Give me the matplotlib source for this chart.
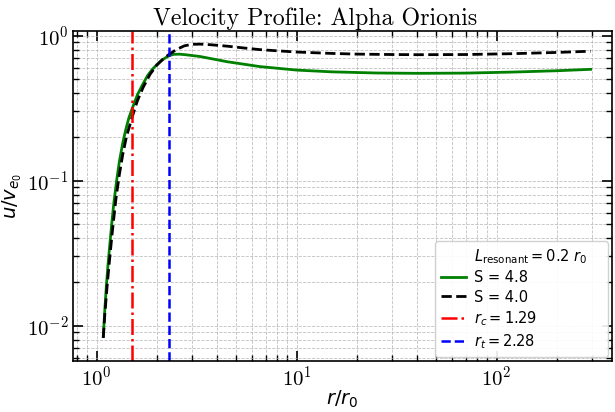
import matplotlib
matplotlib.use('Agg')
import matplotlib.pyplot as plt
from matplotlib.lines import Line2D

# ---------------------------- data ---------------------------- #
r_s48 = [1.08, 1.10, 1.12, 1.14, 1.16, 1.19, 1.22, 1.26, 1.30, 1.35, 1.40, 1.45, 1.51,
         1.60, 1.70, 1.80, 1.90, 2.00, 2.10, 2.20, 2.30, 2.42, 2.60, 2.80, 3.29, 4.5, 6.55,
         10, 15, 25, 40, 70, 120, 200, 295]
u_s48 = [0.0084, 0.013, 0.019, 0.026, 0.034, 0.050, 0.070, 0.100, 0.135, 0.180, 0.225, 0.270, 0.316,
         0.390, 0.460, 0.530, 0.585, 0.630, 0.668, 0.700, 0.725, 0.742, 0.744, 0.737, 0.717, 0.66, 0.611,
         0.578, 0.562, 0.552, 0.549, 0.551, 0.56, 0.572, 0.585]

r_s40 = [1.08, 1.10, 1.13, 1.16, 1.20, 1.25, 1.30, 1.35, 1.41, 1.51, 1.60, 1.71, 1.85,
         2.00, 2.15, 2.30, 2.50, 2.75, 3.00, 3.30, 3.70, 4.5, 5.5, 6.55, 8, 10, 15, 20, 30,
         40, 70, 120, 200, 295]
u_s40 = [0.0082, 0.012, 0.019, 0.028, 0.045, 0.075, 0.110, 0.150, 0.200, 0.277, 0.355, 0.440, 0.540,
         0.625, 0.690, 0.740, 0.800, 0.850, 0.870, 0.873, 0.865, 0.845, 0.82, 0.80, 0.785, 0.77, 0.753, 0.745, 0.74,
         0.738, 0.74, 0.75, 0.765, 0.78]

rc_label = 1.29
rt_label = 2.28
rc_line = 1.51     # where the red line is drawn in the picture
rt_line = 2.30
L_res = 0.2

# ---------------------------------- style ---------------------------------- #
plt.rcParams['font.family'] = 'serif'
plt.rcParams['font.serif'] = ['cmr10', 'DejaVu Serif']
plt.rcParams['mathtext.fontset'] = 'dejavusans'
plt.rcParams['axes.formatter.use_mathtext'] = True

fig = plt.figure(figsize=(6.15, 4.12), dpi=100)
ax = fig.add_axes([0.119, 0.124, 0.876, 0.801])

ax.plot(r_s48, u_s48, color='green', lw=2, label='S = 4.8')
ax.plot(r_s40, u_s40, color='black', lw=2, ls='--', label='S = 4.0')
ax.axvline(rc_line, color='red', lw=1.8, ls='-.', label=r'$r_c = %.2f$' % rc_label)
ax.axvline(rt_line, color='blue', lw=1.8, ls='--', label=r'$r_t = %.2f$' % rt_label)

ax.set_xscale('log')
ax.set_yscale('log')
ax.set_xlim(0.764, 377)
ax.set_ylim(0.0057, 1.077)

ax.set_title('Velocity Profile: Alpha Orionis', fontsize=17.2, x=0.45, pad=4)
ax.set_xlabel(r'$r/r_0$', fontsize=14, labelpad=-1)
ax.set_ylabel(r'$u/v_{e_0}$', fontsize=14, labelpad=2)

ax.tick_params(which='both', direction='in', top=True, right=True, labelsize=15)
ax.tick_params(which='major', length=7, width=1.2)
ax.tick_params(which='minor', length=4, width=1)
for s in ax.spines.values():
    s.set_linewidth(1.2)

ax.grid(True, which='both', ls='--', color='#b0b0b0', lw=0.6, alpha=0.8)

handles, labels = ax.get_legend_handles_labels()
blank = Line2D([], [], color='none')
handles = [blank] + handles
labels = [r'$L_{\mathrm{resonant}} = 0.2\ r_0$' + '    '] + labels
ax.legend(handles, labels, loc='lower right', prop={'family': 'DejaVu Sans', 'size': 10.5},
          borderaxespad=0.3, framealpha=0.9, labelspacing=0.3, handlelength=1.7,
          handletextpad=0.55, borderpad=0.4)

plt.savefig('out.png', dpi=100)
